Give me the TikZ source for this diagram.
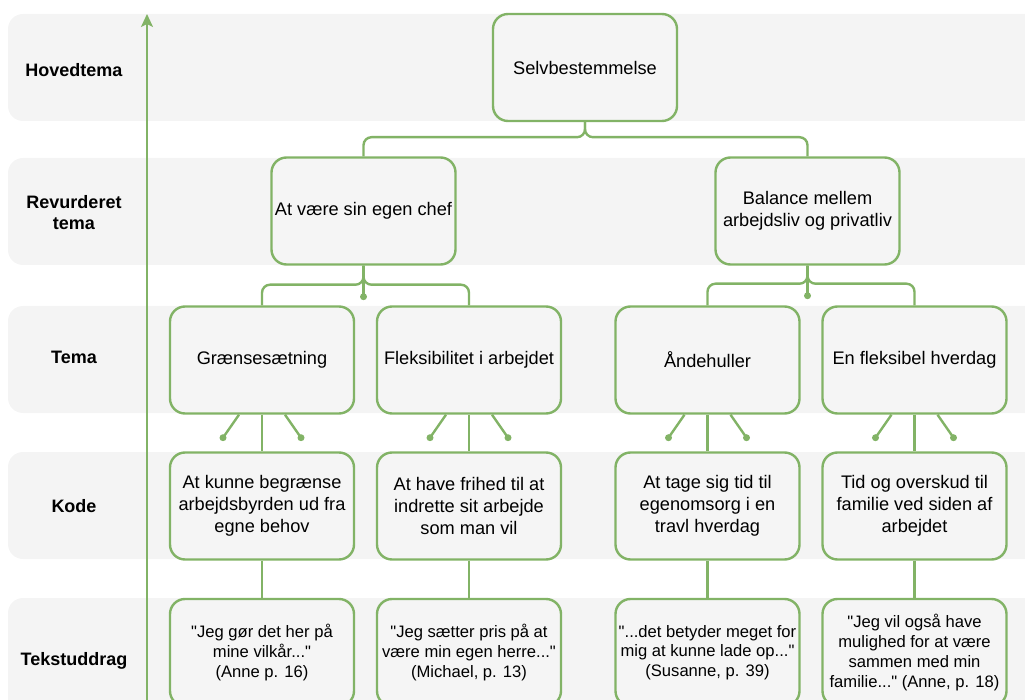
\documentclass[tikz,border=0pt]{standalone}
\usepackage{fontspec}
\setmainfont{Liberation Sans}[Ligatures=TeXOff]
\usetikzlibrary{arrows.meta}
\definecolor{gr}{HTML}{82B366}
\definecolor{band}{HTML}{F4F4F4}
\definecolor{nodefill}{HTML}{F5F5F5}
\begin{document}
\begin{tikzpicture}[x=1pt,y=-1pt,
  bandbox/.style={fill=band,draw=none,rounded corners=15pt},
  rowlabel/.style={font=\fontsize{18}{21}\selectfont\bfseries,align=center},
  card/.style={draw=gr,line width=2.4pt,fill=nodefill,rounded corners=15pt,
    minimum width=184pt,minimum height=107pt,align=center,inner sep=2pt,
    font=\fontsize{18.2}{22}\selectfont},
  quote/.style={card,font=\fontsize{16.6}{19.7}\selectfont},
  link/.style={draw=gr,line width=2.4pt,rounded corners=8pt},
  stub/.style={draw=gr,line width=2.4pt},
  dot/.style={fill=gr,draw=none,circle,minimum size=7pt,inner sep=0pt}]
\useasboundingbox (0,0) rectangle (1025,700);
% bands
\fill[bandbox] (8,14) rectangle (1045,121);
\fill[bandbox] (8,158) rectangle (1045,265);
\fill[bandbox] (8,306) rectangle (1045,413);
\fill[bandbox] (8,452) rectangle (1045,559);
\fill[bandbox] (8,598) rectangle (1045,720);
% row labels
\node[rowlabel] (lh) at (74,70) {Hovedtema};
\node[rowlabel] (lr) at (74,213) {Revurderet\\tema};
\node[rowlabel] (lt) at (74,357) {Tema};
\node[rowlabel] (lk) at (74,506) {Kode};
\node[rowlabel] (lx) at (74,661) {Tekstuddrag};
% axis arrow
\coordinate (abot) at (147,705);
\coordinate (atop) at (147,14);
\draw[gr,line width=2pt,-{Stealth[length=13pt,width=12pt,inset=3pt]}] (abot) -- (atop);
% nodes
\node[card] (sel) at (585,67.5) {Selvbestemmelse};
\node[card] (chef) at (363.5,211) {At være sin egen chef};
\node[card] (bal) at (807.5,211) {Balance mellem\\arbejdsliv og privatliv};
\node[card] (t1) at (262,360) {Grænsesætning};
\node[card] (t2) at (469,360) {Fleksibilitet i arbejdet};
\node[card] (t3) at (707.5,360) {Åndehuller};
\node[card] (t4) at (914.5,360) {En fleksibel hverdag};
\node[card] (k1) at (262,506) {At kunne begrænse\\arbejdsbyrden ud fra\\egne behov};
\node[card] (k2) at (469,506) {At have frihed til at\\indrette sit arbejde\\som man vil};
\node[card] (k3) at (707.5,506) {At tage sig tid til\\egenomsorg i en\\travl hverdag};
\node[card] (k4) at (914.5,506) {Tid og overskud til\\familie ved siden af\\arbejdet};
\node[quote] (q1) at (262,652.5) {"Jeg gør det her på\\mine vilkår..."\\(Anne p. 16)};
\node[quote] (q2) at (469,652.5) {"Jeg sætter pris på at\\være min egen herre..."\\(Michael, p. 13)};
\node[quote] (q3) at (707.5,652.5) {"...det betyder meget for\\mig at kunne lade op..."\\(Susanne, p. 39)};
\node[quote] (q4) at (914.5,652.5) {"Jeg vil også have\\mulighed for at være\\sammen med min\\familie..." (Anne, p. 18)};
% tree links
\draw[link] (sel.south) -- ++(0,15) -| (chef.north);
\draw[link] (sel.south) -- ++(0,15) -| (bal.north);
\draw[link] (chef.south) -- ++(0,19) -| (t1.north);
\draw[link] (chef.south) -- ++(0,19) -| (t2.north);
\draw[link] (bal.south) -- ++(0,18) -| (t3.north);
\draw[link] (bal.south) -- ++(0,18) -| (t4.north);
\coordinate (d0) at ([yshift=-31]chef.south);
\coordinate (d1) at ([yshift=-30]bal.south);
\draw[stub] (chef.south) -- (d0);
\draw[stub] (bal.south) -- (d1);
\node[dot] (d0n) at (d0) {};
\node[dot] (d1n) at (d1) {};
% tema -> kode, kode -> quote, stubs
\foreach \i in {1,2,3,4}{
  \draw[stub] (t\i.south) -- (k\i.north);
  \draw[stub] (k\i.south) -- (q\i.north);
  \coordinate (l\i) at ([xshift=-39,yshift=-23]t\i.south);
  \coordinate (r\i) at ([xshift=39,yshift=-23]t\i.south);
  \draw[stub] ([xshift=-23]t\i.south) -- (l\i);
  \draw[stub] ([xshift=23]t\i.south) -- (r\i);
  \node[dot] at (l\i) {};
  \node[dot] at (r\i) {};
}
\end{tikzpicture}
\end{document}
